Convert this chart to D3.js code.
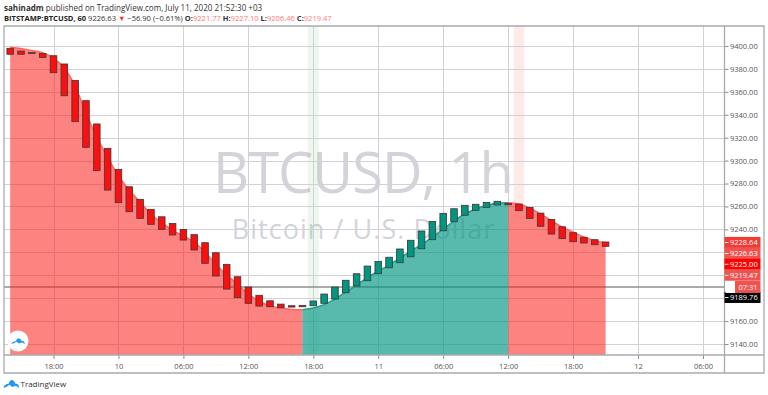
<!DOCTYPE html>
<html>
<head>
<meta charset="utf-8">
<script src="https://cdn.jsdelivr.net/npm/d3@7"></script>
<style>
html, body { margin: 0; padding: 0; background: #fff; overflow: hidden; }
svg { display: block; }
text { font-family: "Open Sans", sans-serif; }
.axis text { font-size: 7.5px; fill: #555; }
.axis path { display: none; }
.axis line { stroke: #8a8a90; }
</style>
</head>
<body>
<div id="chart"></div>
<script>
// [open, close] per hourly candle, index 0 is 14:00 on the 9th
const candleOpen = [9398, 9395.6, 9394.3, 9393.5, 9391.5, 9384.3, 9370, 9352.3, 9332, 9310.7,
    9292.4, 9277.2, 9266.2, 9257.5, 9251, 9245.1, 9240, 9235.4, 9228.4, 9219.6,
    9209.5, 9198.7, 9189.7, 9182.5, 9177.7, 9174.8, 9173.4, 9173.7, 9173.4, 9175.5,
    9179.2, 9184.7, 9190.6, 9195.2, 9201.3, 9206.5, 9210.9, 9216.1, 9223.1, 9231,
    9238.8, 9246.7, 9252.3, 9256.6, 9259.2, 9261.3, 9262.7, 9262.1, 9259.2, 9254.2,
    9248.7, 9242.3, 9237.1, 9233.1, 9231, 9229];
const candleClose = [9392.8, 9392.8, 9393.5, 9390, 9376.7, 9356.6, 9334, 9311.6, 9291.2, 9274.3,
    9263.3, 9255.4, 9249.6, 9244.4, 9240, 9235.1, 9230.7, 9222, 9210.4, 9199.3,
    9187.9, 9180.4, 9175.5, 9173.1, 9172.5, 9171.6, 9172.2, 9172.5, 9177.5, 9183.6,
    9189.7, 9195.6, 9201.3, 9208, 9212, 9215.7, 9222.9, 9230.5, 9238.6, 9247,
    9254, 9258, 9261, 9261.9, 9263.6, 9264.5, 9261.5, 9256.3, 9249.6, 9242.7,
    9235.9, 9231.9, 9229.2, 9228.1, 9226.6, 9225.2];
const areaValues = [9398.9, 9397.8, 9396.1, 9394.2, 9389.5, 9380.8, 9365.1, 9341.5, 9320.6, 9303.1,
    9286.6, 9274.3, 9263.9, 9253.4, 9245.6, 9239.4, 9234.2, 9229, 9220.2, 9209.8,
    9200.2, 9192.3, 9183.6, 9177.5, 9173.1, 9171.4, 9170.2, 9169.9, 9171.4, 9174.4,
    9179.2, 9185.3, 9191.4, 9198, 9203.7, 9208.9, 9215, 9221.1, 9226.8, 9233.3,
    9240.3, 9247.3, 9253.4, 9257.8, 9260.8, 9263, 9263.3, 9262.1, 9258.6, 9253.4,
    9247.7, 9242, 9237.7, 9233.3, 9230.2, 9228.4];
const areaBreaks = [0, 27, 46, 55];

const yTicks = d3.range(9140, 9401, 20);
const yLabels = [9400, 9380, 9360, 9340, 9320, 9300, 9280, 9260, 9240, 9160, 9140];
const xTickIdx = [4, 10, 16, 22, 28, 34, 40, 46, 52, 58, 64];
const xTickLabels = ['18:00', '10', '06:00', '12:00', '18:00', '11', '06:00', '12:00', '18:00', '12', '06:00'];
const priceLine = 9189.76;
const greenBand = 28;
const redBand = 47;
const priceTags = [
    { label: '9228.64', value: 9228.64, color: '#f23a34' },
    { label: '9226.63', value: 9219.0, color: '#ef5350' },
    { label: '9225.00', value: 9209.6, color: '#ff0000' },
    { label: '9219.47', value: 9200.0, color: '#ef5350' },
    { label: '9189.76', value: 9180.6, color: '#000000' }
];

const width = 768, height = 395;
const plot = { left: 4, right: 724.5, outer: 764, top: 26, bottom: 355, frameBottom: 373 };

const svg = d3.select('#chart').append('svg').attr('width', width).attr('height', height);

const x = d3.scaleLinear().domain([4, 64]).range([53.5, 703]);
const y = d3.scaleLinear().domain([9400, 9140]).range([46, 344]);

// watermark sits under the grid
svg.append('text').attr('x', 363).attr('y', 193).attr('text-anchor', 'middle')
    .style('font-size', '56px').style('letter-spacing', '-1px').attr('fill', '#d3d4d9').text('BTCUSD, 1h');
svg.append('text').attr('x', 363.5).attr('y', 238.5).attr('text-anchor', 'middle')
    .style('font-size', '27px').style('letter-spacing', '1.05px').attr('fill', '#d3d4d9').text('Bitcoin / U.S. Dollar');

// highlighted hours
svg.append('rect').attr('x', x(greenBand) - 5.5).attr('width', 11)
    .attr('y', plot.top).attr('height', plot.bottom - plot.top)
    .attr('fill', '#4caf50').attr('opacity', 0.1);
svg.append('rect').attr('x', x(redBand) - 5.2).attr('width', 10.5)
    .attr('y', plot.top).attr('height', y(areaValues[redBand]) - plot.top)
    .attr('fill', '#ff5252').attr('opacity', 0.12);

// grid
svg.append('g').selectAll('line').data(yTicks).enter().append('line')
    .attr('x1', plot.left).attr('x2', plot.right)
    .attr('y1', d => Math.round(y(d)) + 0.5).attr('y2', d => Math.round(y(d)) + 0.5)
    .attr('stroke', '#d0d1d9');
svg.append('g').selectAll('line').data(xTickIdx).enter().append('line')
    .attr('x1', d => Math.round(x(d)) + 0.5).attr('x2', d => Math.round(x(d)) + 0.5)
    .attr('y1', plot.top).attr('y2', plot.bottom)
    .attr('stroke', '#d0d1d9');

// last price line
svg.append('line').attr('x1', plot.left).attr('x2', plot.right)
    .attr('y1', y(priceLine)).attr('y2', y(priceLine))
    .attr('stroke', '#8f8f8f').attr('stroke-width', 1.6);

const area = d3.area().x(d => x(d.i)).y0(plot.bottom).y1(d => y(d.v)).curve(d3.curveMonotoneX);
const topLine = d3.line().x(d => x(d.i)).y(d => y(d.v)).curve(d3.curveMonotoneX);
const points = areaValues.map((v, i) => ({ i, v }));
const zones = d3.pairs(areaBreaks).map(([a, b], n) => ({
    pts: points.slice(a, b + 1),
    fill: n === 1 ? 'rgba(0,150,130,0.62)' : 'rgba(250,40,30,0.53)',
    stroke: n === 1 ? '#2a9d8c' : '#ff6a62'
}));

svg.append('g').selectAll('path').data(zones).enter().append('path')
    .attr('d', d => area(d.pts)).attr('fill', d => d.fill);
svg.append('g').selectAll('path').data(zones).enter().append('path')
    .attr('d', d => topLine(d.pts)).attr('fill', 'none').attr('stroke', d => d.stroke).attr('stroke-width', 1.5);

// candles
svg.append('g').selectAll('rect').data(candleOpen).enter().append('rect')
    .attr('x', (d, i) => x(i) - 3.3)
    .attr('width', 6.6)
    .attr('y', (d, i) => y(Math.max(d, candleClose[i])))
    .attr('height', (d, i) => Math.max(1, Math.abs(y(d) - y(candleClose[i]))))
    .attr('fill', (d, i) => candleClose[i] >= d ? '#009682' : '#fa0f0f')
    .attr('stroke', '#3a3436')
    .attr('stroke-width', 0.8);

// area washes back over the candles a little
svg.append('g').selectAll('path').data(zones).enter().append('path')
    .attr('d', d => area(d.pts))
    .attr('fill', d => d.fill).attr('opacity', 0.16);

// axes
svg.append('g').attr('class', 'axis')
    .attr('transform', `translate(${plot.right},0)`)
    .call(d3.axisRight(y).tickValues(yLabels).tickSize(4).tickPadding(1.5).tickFormat(d3.format('.2f')));
svg.append('g').attr('class', 'axis')
    .attr('transform', `translate(0,${plot.bottom})`)
    .call(d3.axisBottom(x).tickValues(xTickIdx).tickSize(4).tickPadding(4.5)
        .tickFormat((d, i) => xTickLabels[i]));

// frame
svg.append('path')
    .attr('d', `M${plot.left},${plot.top}H${plot.outer}V${plot.frameBottom}H${plot.left}Z`
        + `M${plot.left},${plot.bottom}H${plot.outer}M${plot.right},${plot.top}V${plot.frameBottom}`)
    .attr('fill', 'none').attr('stroke', '#a9aab0').attr('stroke-width', 1.3);

// price tags
const tags = svg.append('g').selectAll('g').data(priceTags).enter().append('g');
tags.append('rect')
    .attr('x', plot.right).attr('width', 36)
    .attr('y', d => y(d.value) - 5.5).attr('height', 11)
    .attr('fill', d => d.color);
tags.append('rect')
    .attr('x', plot.right + 0.5).attr('width', 3.5)
    .attr('y', d => y(d.value) - 0.4).attr('height', 0.9)
    .attr('fill', '#fff');
tags.append('text')
    .attr('x', plot.right + 5.5).attr('y', d => y(d.value) + 2.7)
    .attr('fill', '#fff').style('font-size', '7.5px').text(d => d.label);

svg.append('rect').attr('x', plot.right + 1).attr('y', y(priceLine) - 6).attr('width', 9.5).attr('height', 12).attr('fill', '#fff');
svg.append('rect').attr('x', plot.right + 10.5).attr('y', y(priceLine) - 6).attr('width', 25.5).attr('height', 12).attr('fill', '#ef5350');
svg.append('text').attr('x', plot.right + 14).attr('y', y(priceLine) + 2.7)
    .attr('fill', '#fff').style('font-size', '7.5px').text('07:31');

// header
const head1 = svg.append('text').attr('x', 4).attr('y', 10.5).style('font-size', '8.05px').attr('fill', '#333');
head1.append('tspan').style('font-weight', 700).text('sahinadm');
head1.append('tspan').text(' published on TradingView.com, July 11, 2020 21:52:30 +03');
const head2 = svg.append('text').attr('x', 4).attr('y', 21).style('font-size', '7.55px').attr('fill', '#333');
const headParts = [
    ['BITSTAMP:BTCUSD, 60', 700, '#222'], [' 9226.63 ', 400, '#333'], ['▼', 400, '#f23a34'], [' −56.90 (−0.61%) ', 400, '#333'],
    ['O:', 700, '#333'], ['9221.77', 400, '#f77'], [' H:', 700, '#333'], ['9227.10', 400, '#f77'],
    [' L:', 700, '#333'], ['9206.46', 400, '#f77'], [' C:', 700, '#333'], ['9219.47', 400, '#f77']
];
headParts.forEach(p => head2.append('tspan').style('font-weight', p[1]).attr('fill', p[2]).text(p[0]));

// logos
const cloud = 'M0,9 Q0,6 3,5.5 Q4.5,4 6,5 Q8,0.5 10.5,0.5 Q13,0.5 15,4.5 Q18,4 19,6.5 Q20,8 19.5,9 L15.5,6.5 L11,8 L7.5,5.5 L4,7.5 Z';
svg.append('circle').attr('cx', 18).attr('cy', 341).attr('r', 10.5).attr('fill', '#fff');
svg.append('path').attr('d', cloud).attr('transform', 'translate(11.5,338) scale(0.68)').attr('fill', '#2196f3');
svg.append('path').attr('d', cloud).attr('transform', 'translate(3.5,379.5) scale(0.8,0.95)').attr('fill', '#2196f3');
svg.append('text').attr('x', 20.5).attr('y', 387).style('font-size', '8px').attr('fill', '#333').text('TradingView');
</script>
</body>
</html>
